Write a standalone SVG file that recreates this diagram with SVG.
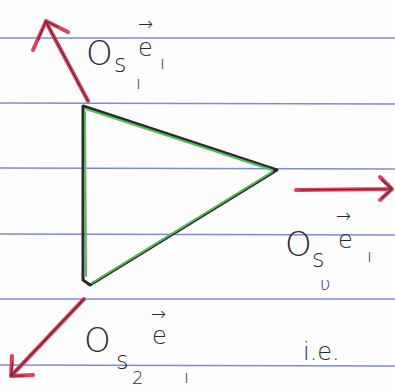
<svg xmlns="http://www.w3.org/2000/svg" width="395" height="391" viewBox="0 0 395 391">
<style>
.rule{stroke:#7d8ad6;stroke-width:1.6;fill:none}
.edge{fill:none;stroke-linecap:round;stroke-linejoin:round}
.blk{stroke:#2a2a2a;stroke-width:3}
.grn{stroke:#4fbf5a;stroke-width:2}
.red{stroke:#e0405e;stroke-width:4;fill:none;stroke-linecap:round;stroke-linejoin:round}
.redc{stroke:#5a2a3a;stroke-width:1.2;fill:none;stroke-linecap:round;stroke-linejoin:round}
text{font-family:"DejaVu Sans","Liberation Sans",sans-serif;fill:#2b2b2b;font-weight:300}
.big{font-size:34px}
.mid{font-size:24px}
.sm{font-size:18px}
</style>
<rect width="395" height="391" fill="#fdfdfd"/>
<g id="paper">
<line class="rule" x1="0" y1="38" x2="395" y2="38"/>
<line class="rule" x1="0" y1="103" x2="395" y2="104"/>
<line class="rule" x1="0" y1="168" x2="395" y2="169"/>
<line class="rule" x1="0" y1="234" x2="395" y2="235"/>
<line class="rule" x1="0" y1="299" x2="395" y2="299"/>
<line class="rule" x1="0" y1="365" x2="395" y2="366"/>
</g>
<g id="triangle">
<path class="edge blk" d="M83,106 L277,170 L90,285 L83,280 Z"/>
<path class="edge grn" d="M86,109 L272,170 M272,172 L92,283 M85,112 L86,276"/>
</g>
<g id="connectors">
<g id="arrow-s1">
<path class="red" d="M88,101 L46,22 M33,50 L46,21 L68,32"/>
<path class="redc" d="M88,101 L46,22 M38,40 L46,21 L58,27"/>
</g>
<g id="arrow-s0">
<path class="red" d="M296,190 L390,189 M380,177 L392,189 L380,200"/>
<path class="redc" d="M300,190 L390,189 M382,180 L392,189 L382,198"/>
</g>
<g id="arrow-s2">
<path class="red" d="M84,299 L11,376 M12,356 L11,376 L33,375"/>
<path class="redc" d="M84,299 L11,376 M13,362 L11,376 L25,376"/>
</g>
</g>
<g id="label-s1">
<text class="big" x="86" y="65">O</text>
<text class="mid" x="114" y="72">s</text>
<text class="sm" x="136" y="89">ı</text>
<text class="mid" x="138" y="56">e</text>
<text class="sm" x="138" y="30">→</text>
<text class="sm" x="160" y="69">ı</text>
</g>
<g id="label-s0">
<text class="big" x="285" y="256">O</text>
<text class="mid" x="312" y="267">s</text>
<text class="sm" x="320" y="290">υ</text>
<text class="mid" x="338" y="248">e</text>
<text class="sm" x="336" y="222">→</text>
<text class="sm" x="367" y="262">ı</text>
</g>
<g id="label-s2">
<text class="big" x="84" y="352">O</text>
<text class="mid" x="116" y="369">s</text>
<text class="sm" x="132" y="384">2</text>
<text class="mid" x="152" y="344">e</text>
<text class="sm" x="151" y="320">→</text>
<text class="sm" x="184" y="383">ı</text>
<text class="mid" x="303" y="360">i.e.</text>
</g>
</svg>
